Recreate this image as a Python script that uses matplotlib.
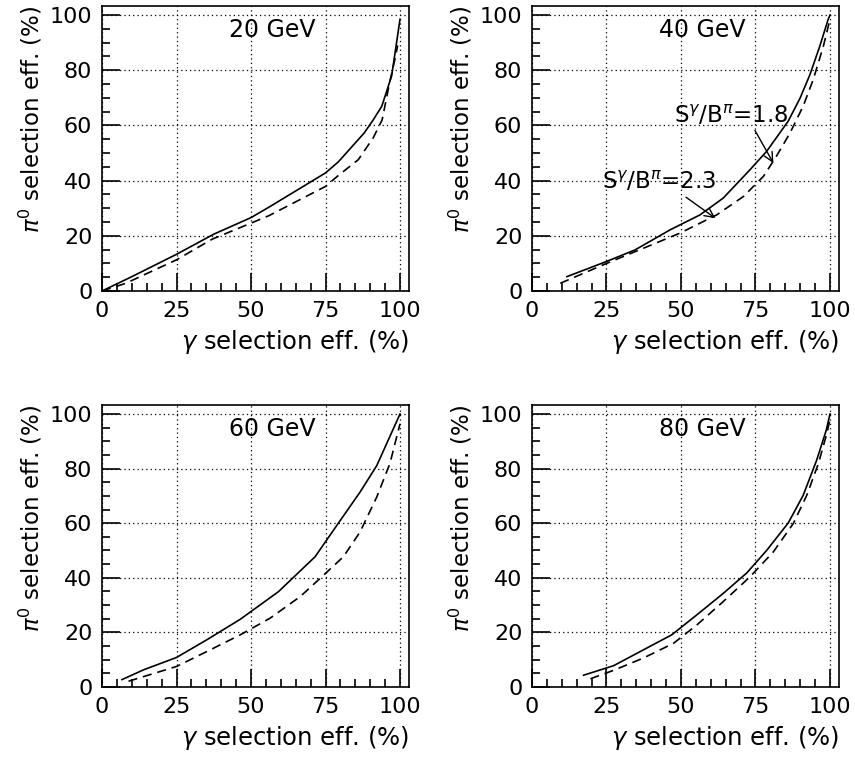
import matplotlib
matplotlib.use('Agg')
import matplotlib.pyplot as plt
from matplotlib.ticker import MultipleLocator

# data: gamma eff (x) vs pi0 eff (y), in %
x20_solid = [0, 10, 25, 37.5, 50, 56.5, 75, 79.3, 88, 91, 93.9, 97.2, 100]
y20_solid = [0, 5.2, 13.3, 20.6, 26.6, 30.7, 42.8, 46.8, 57.3, 62, 67, 78, 98.5]
x20_dash = [0, 8, 25, 37, 50, 56, 75, 79, 86, 91, 94, 96.5, 98.5, 99.2]
y20_dash = [0, 2.8, 11.3, 18.8, 24.6, 27.3, 37.9, 41.6, 47.6, 55.5, 62, 75.5, 85, 89]

x40_solid = [11.7, 25, 34.6, 46.4, 56.4, 64.2, 73.2, 78.8, 86, 90, 93.3, 96.6, 99.4, 100]
y40_solid = [5.2, 10.7, 14.9, 22.2, 27.6, 33.7, 44, 50.7, 61.6, 70, 78.5, 88.8, 98.5, 100]
x40_dash = [9.5, 25, 37.4, 49.7, 62, 71, 77.7, 82, 86.6, 91, 94.4, 97.8, 100]
y40_dash = [2.8, 10, 15.5, 21, 27.6, 34.3, 41.6, 48.8, 57.3, 67, 76.7, 88.8, 98.5]

x60_solid = [6.7, 14, 25, 35.2, 46.4, 59.2, 71.5, 78.8, 86.6, 92.2, 100]
y60_solid = [2.7, 6.3, 10.8, 17.3, 24.8, 34.9, 47.7, 59.2, 71.4, 81.1, 100]
x60_dash = [8.9, 25, 35.2, 46.4, 56.4, 66.5, 73.2, 81, 86.6, 92.2, 96.6, 100]
y60_dash = [2.1, 7.5, 13, 19.1, 25.2, 33.1, 39.8, 47.7, 56.8, 69.6, 81.8, 96.4]

x80_solid = [17.3, 27.4, 37.4, 46.9, 55.3, 64.2, 72.1, 78.8, 86, 91, 95.5, 98.7, 100]
y80_solid = [4.3, 7.8, 13.6, 19.1, 26.4, 34.3, 41.8, 50.1, 60.1, 70.2, 83, 93.9, 100]
x80_dash = [19.6, 27.4, 37.4, 47.5, 55.3, 64.2, 73.2, 81, 87.7, 92.2, 96.1, 98.9, 100]
y80_dash = [3, 6.1, 10.6, 16, 22.7, 31.3, 40.4, 49.5, 59.9, 70.2, 81.8, 92.7, 98]

titles = ['20 GeV', '40 GeV', '60 GeV', '80 GeV']
solids = [(x20_solid, y20_solid), (x40_solid, y40_solid), (x60_solid, y60_solid), (x80_solid, y80_solid)]
dashes = [(x20_dash, y20_dash), (x40_dash, y40_dash), (x60_dash, y60_dash), (x80_dash, y80_dash)]

plt.rcParams['font.family'] = 'DejaVu Sans'
plt.rcParams['font.size'] = 16

fig = plt.figure(figsize=(8.55, 7.6), dpi=100)
boxes = [
    [0.1193, 0.6171, 0.359, 0.375],
    [0.6222, 0.6171, 0.359, 0.375],
    [0.1193, 0.0961, 0.359, 0.371],
    [0.6222, 0.0961, 0.359, 0.371],
]

axes = []
for i in range(4):
    ax = fig.add_axes(boxes[i])
    xs, ys = solids[i]
    ax.plot(xs, ys, color='black', lw=1.2)
    xd, yd = dashes[i]
    ax.plot(xd, yd, color='black', lw=1.2, linestyle=(0, (5.5, 3.5)))
    ax.set_xlim(0, 103)
    ax.set_ylim(0, 103.3)
    ax.xaxis.set_major_locator(MultipleLocator(25))
    ax.xaxis.set_minor_locator(MultipleLocator(5))
    ax.yaxis.set_major_locator(MultipleLocator(20))
    ax.yaxis.set_minor_locator(MultipleLocator(5))
    ax.tick_params(which='both', direction='in', top=False, right=False, width=1.2)
    ax.tick_params(which='major', length=13, pad=7)
    ax.tick_params(which='minor', length=6)
    ax.grid(True, which='major', color='black', linestyle=(0, (1, 2.5)), lw=0.9)
    for s in ax.spines.values():
        s.set_linewidth(1.2)
    ax.set_xlabel(r'$\gamma$ selection eff. (%)', loc='right', labelpad=5, fontsize=17.5)
    ax.set_ylabel(r'$\pi^0$ selection eff. (%)', loc='top', labelpad=4, fontsize=16.5)
    ax.text(57, 94.5, titles[i], ha='center', va='center', fontsize=17)
    axes.append(ax)

ax = axes[1]
ax.annotate(r'S$^{\gamma}$/B$^{\pi}$=1.8', xy=(81, 46.4), xytext=(47.5, 63.6),
            ha='left', va='center', fontsize=16.5,
            arrowprops=dict(arrowstyle='->', lw=1, color='black',
                            shrinkA=0, shrinkB=0, relpos=(0.7, 0.0)))
ax.annotate(r'S$^{\gamma}$/B$^{\pi}$=2.3', xy=(61.5, 26.4), xytext=(23.5, 39.4),
            ha='left', va='center', fontsize=16.5,
            arrowprops=dict(arrowstyle='->', lw=1, color='black',
                            shrinkA=0, shrinkB=0, relpos=(0.7, 0.0)))

fig.savefig('out.png', dpi=100)
